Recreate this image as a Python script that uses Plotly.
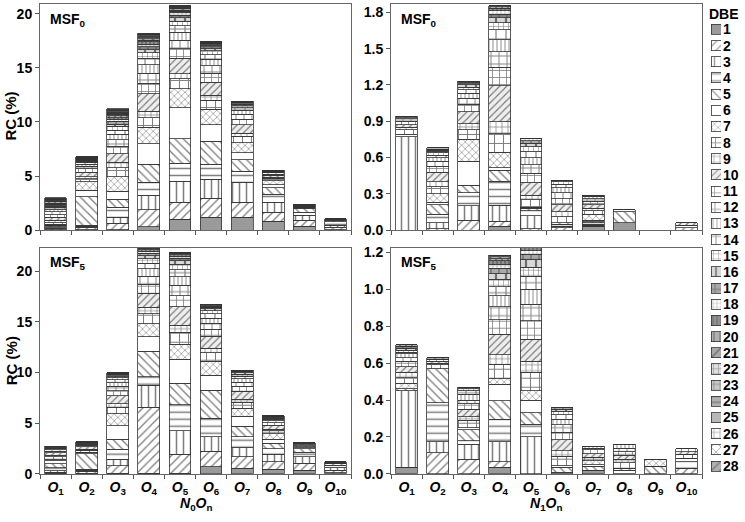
import plotly.graph_objects as go

W, H = 745, 522

GROUPS = ["O1", "O2", "O3", "O4", "O5", "O6", "O7", "O8", "O9", "O10"]
GROUP_TICKS = ["<i>O</i><sub>%d</sub>" % i for i in range(1, 11)]
DBE = [str(i) for i in range(1, 29)]

# Relative contribution (%) per O-group; each inner list = DBE 1..28 (missing tail = 0)
N0_MSF0 = [
    [0.05, 0.1, 0.05, 0.1, 0.1, 0.05, 0.1, 0.15, 0.2, 0.3, 0.2, 0.3, 0.2, 0.2, 0.1, 0.05, 0.1, 0.05, 0.1, 0.1, 0.05, 0.1, 0.05, 0.05, 0.03, 0.02, 0.05, 0.05],
    [0.05, 0.2, 0.1, 0.1, 2.63, 0.62, 0.75, 0.3, 0.2, 0.4, 0.3, 0.25, 0.2, 0.15, 0.1, 0.05, 0.05, 0.05, 0.05, 0.05, 0.03, 0.03, 0.03, 0.02, 0.02, 0.02, 0.03, 0.02],
    [0.05, 0.6, 0.55, 0.9, 0.75, 0.75, 1.35, 0.8, 0.5, 0.8, 0.7, 0.6, 0.5, 0.4, 0.35, 0.2, 0.25, 0.2, 0.15, 0.15, 0.15, 0.1, 0.1, 0.05, 0.1, 0.05, 0.05, 0.05],
    [0.3, 1.6, 1.33, 1.2, 1.66, 1.9, 1.5, 0.9, 0.6, 1.6, 1.0, 0.9, 0.8, 0.6, 0.5, 0.3, 0.25, 0.25, 0.2, 0.15, 0.15, 0.1, 0.1, 0.08, 0.07, 0.05, 0.05, 0.05],
    [1.0, 1.57, 1.96, 1.66, 2.26, 2.87, 1.75, 0.9, 0.5, 1.4, 0.9, 0.8, 0.7, 0.6, 0.45, 0.3, 0.25, 0.2, 0.15, 0.12, 0.1, 0.08, 0.07, 0.05, 0.05, 0.03, 0.03, 0.02],
    [1.2, 1.73, 1.75, 1.42, 2.1, 1.56, 1.42, 0.8, 0.5, 1.2, 0.8, 0.7, 0.6, 0.45, 0.35, 0.2, 0.15, 0.12, 0.1, 0.08, 0.06, 0.05, 0.04, 0.02, 0.02, 0.01],
    [1.2, 1.37, 1.87, 1.0, 1.06, 0.66, 0.9, 0.6, 0.3, 0.8, 0.5, 0.45, 0.35, 0.25, 0.2, 0.1, 0.08, 0.07, 0.05, 0.04, 0.03, 0.02, 0.02],
    [0.82, 0.84, 0.9, 0.75, 0.6, 0.3, 0.37, 0.2, 0.1, 0.2, 0.1, 0.1, 0.08, 0.05, 0.04, 0.03, 0.03],
    [0.36, 0.54, 0.46, 0.3, 0.34, 0.05, 0.05, 0.1, 0.05, 0.05, 0.05, 0.03],
    [0.05, 0.2, 0.2, 0.3, 0.15, 0.05, 0.05, 0.05],
]
N1_MSF0 = [
    [0, 0, 0.77, 0.02, 0, 0, 0, 0.04, 0.02, 0.02, 0.03, 0.02, 0.01, 0.01],
    [0, 0.01, 0.05, 0.07, 0.08, 0.02, 0.07, 0.06, 0.04, 0.08, 0.05, 0.04, 0.03, 0.02, 0.02, 0.01, 0.01, 0.01, 0, 0, 0, 0, 0, 0, 0.01],
    [0, 0.08, 0.12, 0.11, 0.06, 0.2, 0.18, 0.08, 0.05, 0.1, 0.06, 0.05, 0.04, 0.03, 0.02, 0.02, 0.01, 0.01, 0.01],
    [0.03, 0.045, 0.13, 0.2, 0.09, 0.02, 0.13, 0.15, 0.1, 0.3, 0.15, 0.13, 0.1, 0.08, 0.06, 0.04, 0.03, 0.03, 0.02, 0.01, 0.01],
    [0, 0.01, 0.11, 0.04, 0.02, 0.01, 0, 0.06, 0.04, 0.1, 0.08, 0.07, 0.06, 0.05, 0.04, 0.03, 0.02, 0.02],
    [0, 0.02, 0.01, 0.02, 0.01, 0, 0, 0.05, 0.04, 0.06, 0.05, 0.05, 0.04, 0.03, 0.02, 0.01],
    [0.03, 0.01, 0.01, 0.01, 0.01, 0.01, 0.05, 0.03, 0.02, 0.03, 0.03, 0.02, 0.02, 0.01],
    [0.06, 0, 0, 0, 0.09, 0.02],
    [],
    [0, 0.02, 0, 0.02, 0, 0, 0, 0, 0, 0.02],
]
N0_MSF5 = [
    [0.05, 0.1, 0.15, 0.3, 0.4, 0.3, 0.1, 0.3, 0.15, 0.25, 0.15, 0.12, 0.1, 0.08, 0.06, 0.04, 0.03, 0.02],
    [0.05, 0.2, 0.1, 0.1, 1.55, 0.1, 0.05, 0.2, 0.1, 0.2, 0.15, 0.12, 0.1, 0.06, 0.05, 0.03, 0.02],
    [0.05, 0.75, 0.64, 1.0, 0.96, 1.35, 1.2, 0.6, 0.35, 0.8, 0.5, 0.45, 0.35, 0.28, 0.2, 0.12, 0.1, 0.08, 0.06, 0.04, 0.03, 0.02, 0.02],
    [0.05, 6.5, 2.18, 0.86, 2.5, 1.42, 1.3, 1.0, 0.6, 1.4, 0.9, 0.8, 0.7, 0.55, 0.45, 0.3, 0.25, 0.2, 0.15, 0.12, 0.08, 0.06, 0.04],
    [0.05, 1.87, 2.31, 2.57, 2.14, 2.34, 1.5, 1.2, 0.7, 1.8, 1.1, 1.0, 0.85, 0.7, 0.55, 0.35, 0.25, 0.2, 0.12, 0.1, 0.06, 0.05, 0.04],
    [0.7, 1.54, 1.41, 1.85, 2.74, 1.5, 1.38, 0.8, 0.45, 1.2, 0.7, 0.6, 0.5, 0.4, 0.3, 0.2, 0.15, 0.1, 0.08, 0.06, 0.04, 0.02],
    [0.55, 1.12, 0.9, 1.1, 1.05, 0.97, 0.8, 0.55, 0.3, 0.8, 0.5, 0.4, 0.35, 0.25, 0.2, 0.12, 0.1, 0.08, 0.05, 0.05],
    [0.45, 0.74, 0.73, 0.55, 0.54, 0.42, 0.54, 0.3, 0.15, 0.35, 0.25, 0.2, 0.15, 0.12, 0.08, 0.06, 0.04, 0.03, 0.02, 0.02],
    [0.38, 0.65, 0.64, 0.48, 0.32, 0.1, 0.1, 0.12, 0.06, 0.12, 0.06, 0.05],
    [0.1, 0.25, 0.25, 0.25, 0.15, 0.05, 0.05, 0.05, 0, 0.03],
]
N1_MSF5 = [
    [0.035, 0, 0.415, 0, 0.01, 0, 0.03, 0.03, 0.03, 0.03, 0.03, 0.02, 0.02, 0.01, 0.01, 0.01, 0.01, 0, 0, 0.01],
    [0, 0.115, 0.06, 0.21, 0.185, 0, 0, 0.02, 0.01, 0.01, 0.01, 0, 0, 0, 0, 0, 0.01],
    [0, 0.08, 0.08, 0.02, 0.06, 0.01, 0, 0.04, 0.02, 0.04, 0.03, 0.02, 0.03, 0.02, 0.01, 0.01],
    [0.035, 0.03, 0.11, 0.12, 0.1, 0.09, 0.03, 0.08, 0.05, 0.11, 0.08, 0.07, 0.06, 0.05, 0.04, 0.03, 0.03, 0.02, 0.02, 0.01, 0.01, 0.01],
    [0, 0, 0.2, 0.07, 0.06, 0.07, 0.05, 0.1, 0.06, 0.12, 0.1, 0.09, 0.08, 0.07, 0.05, 0.04, 0.03, 0.02, 0.02, 0.01, 0.01],
    [0, 0, 0, 0.01, 0.025, 0.01, 0, 0.05, 0.03, 0.06, 0.04, 0.04, 0.03, 0.025, 0.02, 0.01, 0.01],
    [0.02, 0, 0, 0, 0.02, 0.01, 0.02, 0.02, 0, 0.02, 0.02, 0.01, 0.01],
    [0, 0, 0, 0.02, 0.01, 0, 0, 0.03, 0.02, 0.02, 0.02, 0.02, 0.02],
    [0, 0, 0, 0, 0.04, 0, 0.04],
    [0, 0.03, 0, 0.035, 0, 0.02, 0, 0.02, 0, 0.015, 0.015],
]

# pattern style per DBE: (shape, size, background)
STYLE = [
    ("", 8, "#9a9a9a"), ("/", 6, "white"), ("|", 7, "white"), ("-", 7, "white"),
    ("\\", 6, "white"), ("", 8, "white"), ("x", 5, "white"), ("+", 9, "white"),
    ("+", 6, "white"), ("/", 5, "#eeeeee"), ("+", 7, "white"), ("+", 8, "white"),
    ("|", 4, "white"), ("+", 10, "white"), ("+", 5, "white"), ("|", 10, "#d8d8d8"),
    ("+", 8, "#a8a8a8"), ("+", 4, "white"), ("|", 4, "#909090"), ("|", 6, "#b0b0b0"),
    ("/", 7, "#a8a8a8"), ("+", 5, "#e0e0e0"), ("+", 6, "#c8c8c8"), ("-", 6, "#b0b0b0"),
    ("", 8, "#b8b8b8"), ("+", 6, "white"), ("x", 7, "white"), ("/", 6, "#b0b0b0"),
]


def pad(row):
    return list(row) + [0] * (len(DBE) - len(row))


def px_x(a, b):
    return [a / W, b / W]


def px_y(top, bottom):
    return [1 - bottom / H, 1 - top / H]


FONT = "Liberation Sans, Arial, sans-serif"
fig = go.Figure()

panels = [
    (N0_MSF0, "x", "y"),
    (N1_MSF0, "x2", "y2"),
    (N0_MSF5, "x3", "y3"),
    (N1_MSF5, "x4", "y4"),
]
for data, xa, ya in panels:
    rows = [pad(r) for r in data]
    for k, d in enumerate(DBE):
        shape, size, bg = STYLE[k]
        fig.add_trace(go.Bar(
            x=GROUPS, y=[rows[g][k] for g in range(len(GROUPS))],
            xaxis=xa, yaxis=ya, name=d, showlegend=False, width=0.7,
            marker=dict(color=bg, line=dict(color="#333", width=0.8),
                        pattern=dict(shape=shape, size=size, fgcolor="black",
                                     fillmode="overlay", solidity=0.22)),
        ))

# legend swatches as a small bar subplot
SWATCH = [1] * len(DBE)
fig.add_trace(go.Bar(
    x=SWATCH, y=DBE, orientation="h", xaxis="x5", yaxis="y5", width=0.62,
    showlegend=False,
    marker=dict(color=[s[2] for s in STYLE], line=dict(color="#333", width=0.8),
                pattern=dict(shape=[s[0] for s in STYLE], size=[s[1] for s in STYLE],
                             fgcolor="black", fillmode="overlay", solidity=0.22)),
))

tickfont = dict(family=FONT, size=14, color="black", weight="bold")
xcommon = dict(type="category", categoryorder="array", categoryarray=GROUPS,
               tickmode="array", tickvals=GROUPS, ticktext=GROUP_TICKS, tickangle=0,
               ticks="outside", ticklen=4, tickson="boundaries", tickcolor="#555",
               showline=True, mirror=True, linecolor="#666", linewidth=1,
               showgrid=False, zeroline=False, ticklabelstandoff=0,
               tickfont=dict(family=FONT, size=14, color="black", weight="bold"))
ycommon = dict(ticks="outside", ticklen=4, tickcolor="#555", showline=True, mirror=True,
               linecolor="#666", linewidth=1, showgrid=False, zeroline=False,
               tickfont=tickfont)

fig.update_layout(
    width=W, height=H, margin=dict(l=0, r=0, t=0, b=0),
    paper_bgcolor="white", plot_bgcolor="white", barmode="stack", bargap=0.3,
    xaxis=dict(xcommon, domain=px_x(40, 351), anchor="y", showticklabels=False),
    yaxis=dict(ycommon, domain=px_y(1, 232), anchor="x", range=[0, 20.9],
               tickvals=[0, 5, 10, 15, 20]),
    xaxis2=dict(xcommon, domain=px_x(391, 702), anchor="y2", showticklabels=False),
    yaxis2=dict(ycommon, domain=px_y(1, 232), anchor="x2", range=[0, 1.87],
                tickvals=[0, 0.3, 0.6, 0.9, 1.2, 1.5, 1.8], tickformat=".1f"),
    xaxis3=dict(xcommon, domain=px_x(40, 351), anchor="y3"),
    yaxis3=dict(ycommon, domain=px_y(250, 481), anchor="x3", range=[0, 22.3],
                tickvals=[0, 5, 10, 15, 20]),
    xaxis4=dict(xcommon, domain=px_x(391, 702), anchor="y4"),
    yaxis4=dict(ycommon, domain=px_y(250, 481), anchor="x4", range=[0, 1.225],
                tickvals=[0, 0.2, 0.4, 0.6, 0.8, 1.0, 1.2], tickformat=".1f"),
    xaxis5=dict(domain=px_x(711, 721), anchor="y5", range=[0, 1], visible=False),
    yaxis5=dict(domain=px_y(18.75, 481.25), anchor="x5", type="category",
                categoryorder="array", categoryarray=DBE, autorange="reversed",
                tickmode="array", tickvals=DBE, ticktext=DBE,
                side="right", showline=False, showgrid=False, zeroline=False,
                ticks="", ticklabelstandoff=1, tickfont=tickfont),
)

ann = dict(xref="paper", yref="paper", showarrow=False,
           font=dict(family=FONT, size=14, color="black", weight="bold"))
title_font = dict(family=FONT, size=14, color="black", weight="bold")
annotations = [
    dict(ann, x=48 / W, y=1 - 17 / H, text="MSF<sub>0</sub>", xanchor="left", yanchor="middle"),
    dict(ann, x=399 / W, y=1 - 17 / H, text="MSF<sub>0</sub>", xanchor="left", yanchor="middle"),
    dict(ann, x=48 / W, y=1 - 266 / H, text="MSF<sub>5</sub>", xanchor="left", yanchor="middle"),
    dict(ann, x=399 / W, y=1 - 266 / H, text="MSF<sub>5</sub>", xanchor="left", yanchor="middle"),
    dict(ann, x=11 / W, y=1 - 116 / H, text="RC (%)", textangle=-90, xanchor="center",
         yanchor="middle", font=dict(title_font, size=15)),
    dict(ann, x=11 / W, y=1 - 366 / H, text="RC (%)", textangle=-90, xanchor="center",
         yanchor="middle", font=dict(title_font, size=15)),
    dict(ann, x=196 / W, y=0, text="<i>N</i><sub>0</sub><i>O</i><sub>n</sub>",
         xanchor="center", yanchor="bottom", borderpad=0, font=title_font),
    dict(ann, x=546 / W, y=0, text="<i>N</i><sub>1</sub><i>O</i><sub>n</sub>",
         xanchor="center", yanchor="bottom", borderpad=0, font=title_font),
    dict(ann, x=724 / W, y=1 - 11 / H, text="DBE", xanchor="center", yanchor="middle"),
]
fig.update_layout(annotations=annotations)

fig.write_html("out.html")
